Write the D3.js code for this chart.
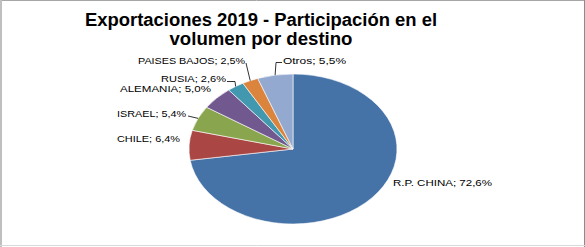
<!DOCTYPE html>
<html><head><meta charset="utf-8">
<script src="https://cdn.jsdelivr.net/npm/d3@7"></script>
<style>body{margin:0;background:#fff}svg{display:block}</style>
</head><body>
<script>
const titleLines = ["Exportaciones 2019 - Participación en el", "volumen por destino"];
const categories = ["R.P. CHINA", "CHILE", "ISRAEL", "ALEMANIA", "RUSIA", "PAISES BAJOS", "Otros"];
const values = [72.6, 6.4, 5.4, 5.0, 2.6, 2.5, 5.5];
const colors = ["#4572A7", "#AA4643", "#89A54E", "#71588F", "#4198AF", "#DB843D", "#93A9CF"];

const W = 585, H = 247;
const cx = 293, cy = 149, rx = 104, ry = 75;
// label layout: x (left), baseline y, width, leader start points
const labelLayout = [
  {x: 393, y: 186, w: 99},
  {x: 117, y: 142, w: 63},
  {x: 117, y: 116.5, w: 69, leader: [[188, 116]]},
  {x: 120, y: 91.5, w: 91},
  {x: 161, y: 81.6, w: 65, leader: [[227, 81.5], [235, 81.5]]},
  {x: 138, y: 64, w: 107, leader: [[246, 63]]},
  {x: 283, y: 64, w: 63, leader: [[282, 62.5], [276, 62.5]]}
];

const svg = d3.select("body").append("svg").attr("width", W).attr("height", H);
svg.append("rect").attr("width", W).attr("height", H).attr("fill", "#fff");
// frame
svg.append("line").attr("x1",0).attr("x2",W).attr("y1",0.5).attr("y2",0.5).attr("stroke","#a6a6a6");
svg.append("line").attr("x1",1).attr("x2",1).attr("y1",0).attr("y2",H).attr("stroke","#bfbfbf").attr("stroke-width",2);
svg.append("line").attr("x1",584.5).attr("x2",584.5).attr("y1",0).attr("y2",H).attr("stroke","#8c8c8c");
svg.append("line").attr("x1",0).attr("x2",W).attr("y1",245.5).attr("y2",245.5).attr("stroke","#d9d9d9");

// title
const tl = svg.append("g");
tl.append("text").attr("x", 261).attr("y", 25.8).attr("text-anchor","middle")
  .attr("font-family","Liberation Sans, Arial, sans-serif").attr("font-weight","bold").attr("font-size",17.6)
  .attr("textLength",352).attr("lengthAdjust","spacingAndGlyphs").attr("fill","#000").text(titleLines[0]);
tl.append("text").attr("x", 261).attr("y", 45.2).attr("text-anchor","middle")
  .attr("font-family","Liberation Sans, Arial, sans-serif").attr("font-weight","bold").attr("font-size",17.6)
  .attr("textLength",183).attr("lengthAdjust","spacingAndGlyphs").attr("fill","#000").text(titleLines[1]);

const data = categories.map((c, i) => ({cat: c, value: values[i], color: colors[i], lay: labelLayout[i]}));
const pie = d3.pie().value(d => d.value).sort(null);
const arcs = pie(data);
const arc = d3.arc().innerRadius(0).outerRadius(rx);

const g = svg.append("g").attr("transform", `translate(${cx},${cy}) scale(1,${ry/rx})`);
g.selectAll("path").data(arcs).join("path")
  .attr("d", arc).attr("fill", d => d.data.color)
  .attr("stroke", "#fff").attr("stroke-width", 0.6).attr("vector-effect","non-scaling-stroke");

// anchors on ellipse edge
function anchor(a) {
  const m = (a.startAngle + a.endAngle) / 2;
  return [cx + rx * Math.sin(m), cy - ry * Math.cos(m)];
}

arcs.forEach(a => {
  const L = a.data.lay;
  if (L.leader) {
    const pts = L.leader.concat([anchor(a)]);
    svg.append("path").attr("d", d3.line()(pts)).attr("fill","none")
      .attr("stroke","#000").attr("stroke-width",0.8);
  }
  svg.append("text").attr("x", L.x).attr("y", L.y)
    .attr("font-family","Liberation Sans, Arial, sans-serif").attr("font-size",8.8)
    .attr("textLength", L.w).attr("lengthAdjust","spacingAndGlyphs")
    .attr("fill","#000")
    .text(`${a.data.cat}; ${a.data.value.toFixed(1).replace(".", ",")}%`);
});
</script>
</body></html>
